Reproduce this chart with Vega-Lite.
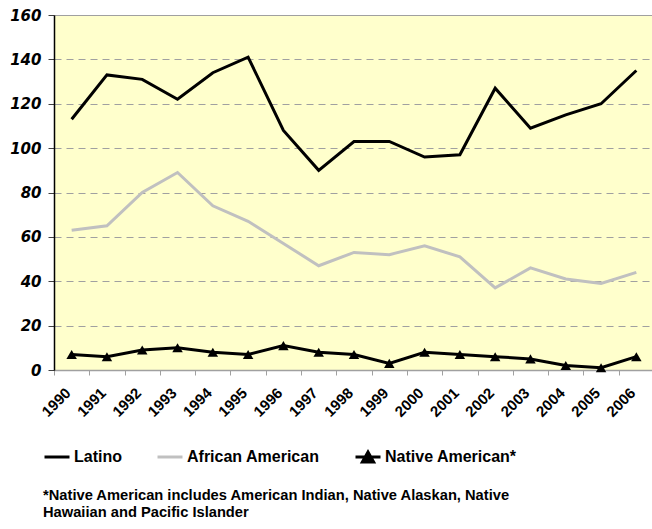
{
  "$schema": "https://vega.github.io/schema/vega-lite/v6.json",
  "autosize": "none",
  "width": 600,
  "height": 355,
  "padding": {"left": 54, "top": 15, "right": 0, "bottom": 159},
  "background": "white",
  "title": {
    "text": ["*Native American includes American Indian, Native Alaskan, Native", "Hawaiian and Pacific Islander"],
    "orient": "bottom",
    "anchor": "start",
    "frame": "group",
    "dx": -11,
    "offset": 20,
    "font": "Liberation Sans",
    "fontSize": 14.7,
    "fontWeight": "bold",
    "lineHeight": 17,
    "color": "black"
  },
  "data": {
    "values": [
      {"year": "1990", "series": "Latino", "value": 113},
      {"year": "1991", "series": "Latino", "value": 133},
      {"year": "1992", "series": "Latino", "value": 131},
      {"year": "1993", "series": "Latino", "value": 122},
      {"year": "1994", "series": "Latino", "value": 134},
      {"year": "1995", "series": "Latino", "value": 141},
      {"year": "1996", "series": "Latino", "value": 108},
      {"year": "1997", "series": "Latino", "value": 90},
      {"year": "1998", "series": "Latino", "value": 103},
      {"year": "1999", "series": "Latino", "value": 103},
      {"year": "2000", "series": "Latino", "value": 96},
      {"year": "2001", "series": "Latino", "value": 97},
      {"year": "2002", "series": "Latino", "value": 127},
      {"year": "2003", "series": "Latino", "value": 109},
      {"year": "2004", "series": "Latino", "value": 115},
      {"year": "2005", "series": "Latino", "value": 120},
      {"year": "2006", "series": "Latino", "value": 135},
      {"year": "1990", "series": "African American", "value": 63},
      {"year": "1991", "series": "African American", "value": 65},
      {"year": "1992", "series": "African American", "value": 80},
      {"year": "1993", "series": "African American", "value": 89},
      {"year": "1994", "series": "African American", "value": 74},
      {"year": "1995", "series": "African American", "value": 67},
      {"year": "1996", "series": "African American", "value": 57},
      {"year": "1997", "series": "African American", "value": 47},
      {"year": "1998", "series": "African American", "value": 53},
      {"year": "1999", "series": "African American", "value": 52},
      {"year": "2000", "series": "African American", "value": 56},
      {"year": "2001", "series": "African American", "value": 51},
      {"year": "2002", "series": "African American", "value": 37},
      {"year": "2003", "series": "African American", "value": 46},
      {"year": "2004", "series": "African American", "value": 41},
      {"year": "2005", "series": "African American", "value": 39},
      {"year": "2006", "series": "African American", "value": 44},
      {"year": "1990", "series": "Native American*", "value": 7},
      {"year": "1991", "series": "Native American*", "value": 6},
      {"year": "1992", "series": "Native American*", "value": 9},
      {"year": "1993", "series": "Native American*", "value": 10},
      {"year": "1994", "series": "Native American*", "value": 8},
      {"year": "1995", "series": "Native American*", "value": 7},
      {"year": "1996", "series": "Native American*", "value": 11},
      {"year": "1997", "series": "Native American*", "value": 8},
      {"year": "1998", "series": "Native American*", "value": 7},
      {"year": "1999", "series": "Native American*", "value": 3},
      {"year": "2000", "series": "Native American*", "value": 8},
      {"year": "2001", "series": "Native American*", "value": 7},
      {"year": "2002", "series": "Native American*", "value": 6},
      {"year": "2003", "series": "Native American*", "value": 5},
      {"year": "2004", "series": "Native American*", "value": 2},
      {"year": "2005", "series": "Native American*", "value": 1},
      {"year": "2006", "series": "Native American*", "value": 6}
    ]
  },
  "encoding": {
    "x": {
      "field": "year",
      "type": "ordinal",
      "bandPosition": 0.5,
      "scale": {"type": "band", "paddingInner": 0, "paddingOuter": 0},
      "axis": {
        "title": null,
        "labelAngle": -45,
        "labelAlign": "right",
        "labelBaseline": "middle",
        "labelFont": "Liberation Sans",
        "labelFontWeight": "bold",
        "labelFontSize": 15,
        "labelColor": "black",
        "labelPadding": 15,
        "labelOffset": -4,
        "tickBand": "extent",
        "tickSize": 5,
        "tickColor": "#A0A0A0",
        "domainColor": "#A0A0A0",
        "domainWidth": 1.5,
        "grid": false
      }
    },
    "y": {
      "field": "value",
      "type": "quantitative",
      "scale": {"domain": [0, 160], "nice": false},
      "axis": {
        "title": null,
        "values": [0, 20, 40, 60, 80, 100, 120, 140, 160],
        "labelFont": "DejaVu Sans",
        "labelFontWeight": "bold",
        "labelFontStyle": "italic",
        "labelFontSize": 15,
        "labelColor": "black",
        "labelPadding": 7,
        "tickSize": 6,
        "tickColor": "#404040",
        "domainColor": "black",
        "domainWidth": 1.5,
        "grid": true,
        "gridColor": "#A0A0A0",
        "gridDash": [7, 5],
        "gridWidth": 1.2
      }
    }
  },
  "layer": [
    {
      "mark": {"type": "line", "strokeWidth": 3},
      "encoding": {
        "color": {
          "field": "series",
          "type": "nominal",
          "scale": {
            "domain": ["Latino", "African American", "Native American*"],
            "range": ["black", "#C0C0C0", "black"]
          },
          "legend": {
            "title": null,
            "orient": "none",
            "legendX": -11,
            "legendY": 428,
            "direction": "horizontal",
            "symbolType": "stroke",
            "symbolSize": 625,
            "symbolStrokeWidth": 3,
            "labelFont": "Liberation Sans",
            "labelFontSize": 16,
            "labelFontWeight": "bold",
            "labelColor": "black",
            "labelOffset": 3,
            "columnPadding": 29,
            "labelLimit": 300,
            "encode": {
              "symbols": {
                "update": {
                  "shape": {"signal": "datum.value === 'Native American*' ? 'M-1,0H1M-0.45,0.4L0,-0.4L0.45,0.4Z' : 'M-1,0H1M0,-0.4L0,-0.4M0,0.4L0,0.4'"},
                  "fill": {"signal": "datum.value === 'Native American*' ? 'black' : 'transparent'"}
                }
              }
            }
          }
        }
      }
    },
    {
      "transform": [{"filter": "datum.series === 'Native American*'"}],
      "mark": {"type": "point", "shape": "triangle-up", "filled": true, "color": "black", "size": 110, "opacity": 1}
    }
  ],
  "config": {
    "view": {"fill": "#FFFFCC", "stroke": "#A0A0A0"}
  }
}
